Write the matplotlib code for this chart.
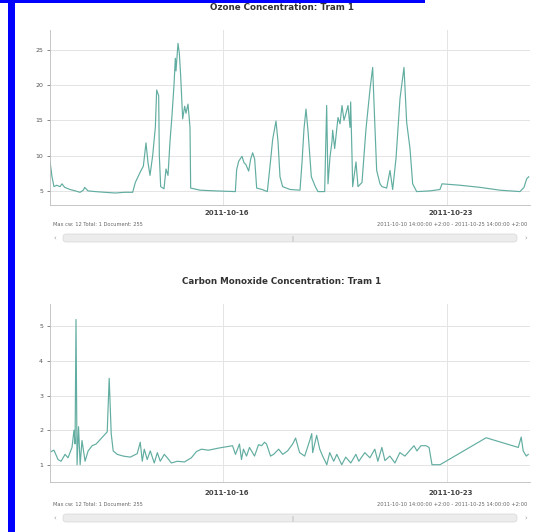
import matplotlib
matplotlib.use("Agg")
import matplotlib.pyplot as plt
from matplotlib.patches import FancyBboxPatch, Rectangle
import pandas as pd

# Data: hours after 2011-10-10 14:00 (+2:00)
start = pd.Timestamp("2011-10-10 14:00")
end = pd.Timestamp("2011-10-25 14:00")

ozone_hours = [0, 1.5, 3, 5, 7.5, 9, 11, 15, 19, 22.5, 25, 26, 28.5, 34, 41, 49, 56, 62,
               64, 67.5, 70, 72, 73.5, 75, 77, 79, 80, 81.5, 82, 83, 85.5, 87, 88.5, 90,
               91.5, 93, 94, 94.5, 96, 97, 98, 99.5, 101, 102, 103.5, 105, 105.5, 112.5,
               124, 139, 140, 141.5, 144, 145.5, 147, 149, 150.5, 152, 153.5, 155, 159,
               163, 165, 167, 169.5, 171, 172.5, 174.5, 180, 187.5, 189, 190.5, 192, 193.5,
               196, 199, 201, 206, 207.5, 208.5, 210, 211.5, 212, 213.5, 216, 217.5, 219,
               220.5, 222, 223.5, 225, 225.5, 226.5, 227, 229.5, 231, 234, 237, 240, 242,
               243.5, 245, 247.5, 249, 252.5, 255, 257, 259.5, 262.5, 265.5, 267.5, 270,
               272, 275, 285, 292.5, 294, 307.5, 322.5, 337.5, 352.5, 355.5, 357.5, 359]
ozone_vals = [9.2, 7.0, 5.6, 5.8, 5.6, 6.0, 5.5, 5.2, 5.0, 4.8, 5.1, 5.5, 5.0, 4.9, 4.8, 4.7,
              4.8, 4.8, 6.2, 7.6, 8.5, 11.8, 9.0, 7.2, 10.0, 14.0, 19.3, 18.5, 10.0, 5.6,
              5.3, 8.1, 7.2, 12.0, 15.7, 20.0, 23.8, 22.0, 25.9, 24.5, 21.3, 15.2, 17.0,
              16.0, 17.3, 14.0, 5.4, 5.1, 5.0, 4.9, 8.0, 9.2, 9.9, 9.0, 8.7, 7.8, 9.5,
              10.4, 9.5, 5.4, 5.2, 4.9, 8.5, 12.3, 14.9, 12.0, 7.0, 5.6, 5.2, 5.1, 9.0,
              13.8, 16.6, 13.5, 7.0, 5.6, 4.9, 4.9, 17.1, 6.0, 9.8, 12.0, 13.6, 11.0, 15.4,
              14.5, 17.1, 15.0, 16.0, 17.1, 14.0, 17.6, 10.0, 5.6, 9.1, 5.6, 6.2, 13.8,
              19.4, 22.5, 15.0, 7.9, 6.0, 5.6, 5.4, 7.9, 5.2, 9.6, 18.1, 22.5, 14.7, 11.0,
              6.0, 4.9, 5.0, 5.2, 6.0, 5.8, 5.5, 5.1, 4.9, 5.5, 6.7, 7.0]

co_hours = [0.8, 3, 6, 8.3, 11.3, 13.5, 16.5, 18, 18.8, 19.5, 20.3, 21.4, 22.6, 24, 26.3,
            28.6, 31.6, 34.6, 42.9, 44.4, 45.9, 47.4, 50.4, 54.9, 60.2, 65.4, 67.7, 69.2,
            70.7, 72.9, 75.2, 78.2, 80.5, 82.7, 85.7, 88, 91, 95.5, 100.8, 106, 109.8,
            113.6, 118.8, 126.3, 136.9, 139.1, 142.1, 143.6, 145.1, 147.4, 149.6, 153.4,
            156.4, 158.7, 160.9, 162.4, 165.4, 167.7, 171.5, 174.5, 178.2, 182, 184.2,
            187.2, 191, 194.8, 196.3, 197, 200, 202.3, 204.5, 207.6, 209.8, 212.8, 215.1,
            218.8, 221.8, 225.6, 229.4, 231.6, 236.1, 239.9, 243.6, 245.9, 248.9, 251.2,
            254.9, 258.7, 262.4, 266.2, 270.7, 273, 275.2, 278.2, 282, 284.3, 286.5,
            292.5, 327.1, 351.2, 353.4, 354.9, 357.2, 358.7]
co_vals = [1.38, 1.42, 1.15, 1.1, 1.3, 1.2, 1.5, 2.0, 1.6, 5.2, 1.0, 2.1, 1.0, 1.7, 1.1,
           1.4, 1.55, 1.6, 1.95, 3.5, 1.9, 1.4, 1.3, 1.25, 1.22, 1.32, 1.65, 1.1, 1.45,
           1.15, 1.4, 1.05, 1.35, 1.1, 1.3, 1.2, 1.05, 1.1, 1.08, 1.2, 1.38, 1.45, 1.42,
           1.48, 1.55, 1.3, 1.6, 1.15, 1.45, 1.25, 1.5, 1.25, 1.58, 1.55, 1.65, 1.6, 1.25,
           1.3, 1.45, 1.3, 1.4, 1.6, 1.77, 1.35, 1.25, 1.7, 1.9, 1.35, 1.85, 1.45, 1.25,
           1.0, 1.35, 1.1, 1.3, 1.0, 1.22, 1.05, 1.3, 1.1, 1.35, 1.2, 1.45, 1.1, 1.5,
           1.12, 1.25, 1.05, 1.35, 1.25, 1.45, 1.55, 1.4, 1.55, 1.55, 1.5, 1.0, 1.0, 1.78,
           1.5, 1.8, 1.4, 1.25, 1.3]

date_ticks = ["2011-10-16", "2011-10-23"]
ozone_yticks = [5, 10, 15, 20, 25]
co_yticks = [1, 2, 3, 4, 5]
footer_left = "Max cw: 12 Total: 1 Document: 255"
footer_right = "2011-10-10 14:00:00 +2:00 - 2011-10-25 14:00:00 +2:00"

W, H = 535, 532
fig = plt.figure(figsize=(W / 100, H / 100), dpi=100)
fig.patch.set_facecolor("white")


def fx(x):
    return x / W


def fy(y):
    return 1 - y / H


line_color = "#62ad a1".replace(" ", "")


def panel(top, bottom, title, hours, vals, yticks, ylim, title_y, date_y, foot_y, scroll_y):
    ax = fig.add_axes([fx(50), fy(bottom), fx(530) - fx(50), fy(top) - fy(bottom)])
    t = [start + pd.Timedelta(hours=h) for h in hours]
    ax.plot(t, vals, color=line_color, lw=0.85)
    ax.set_xlim(start, end)
    ax.set_ylim(*ylim)
    ax.set_yticks(yticks)
    ax.set_yticklabels([str(v) for v in yticks])
    ax.set_xticks([pd.Timestamp(d) for d in date_ticks])
    ax.set_xticklabels([])
    ax.tick_params(axis="y", labelsize=4.5, colors="#555555", length=2, width=0.5, pad=3)
    ax.tick_params(axis="x", length=0)
    ax.grid(True, color="#e4e4e4", lw=0.7)
    ax.set_axisbelow(True)
    for s in ["top", "right"]:
        ax.spines[s].set_visible(False)
    for s in ["left", "bottom"]:
        ax.spines[s].set_color("#bbbbbb")
        ax.spines[s].set_linewidth(0.6)

    fig.text(fx(282), fy(title_y), title, ha="center", va="center",
             fontsize=6.3, fontweight="bold", color="#333333")
    for d in date_ticks:
        xd = ax.transData.transform((matplotlib.dates.date2num(pd.Timestamp(d)), 0))[0]
        fig.text(xd / fig.dpi / fig.get_figwidth() + 0.006, fy(date_y), d, ha="center",
                 va="center", fontsize=5, fontweight="bold", color="#444444")
    fig.text(fx(53), fy(foot_y), footer_left, ha="left", va="center",
             fontsize=3.7, color="#666666")
    fig.text(fx(527), fy(foot_y), footer_right, ha="right", va="center",
             fontsize=3.7, color="#666666")
    # scrollbar
    bar = FancyBboxPatch((fx(63), fy(scroll_y + 4)), fx(517) - fx(63), fy(scroll_y - 4) - fy(scroll_y + 4),
                         boxstyle="round,pad=0,rounding_size=0.006",
                         transform=fig.transFigure, facecolor="#ececec",
                         edgecolor="#d6d6d6", lw=0.5)
    fig.patches.append(bar)
    fig.text(fx(292), fy(scroll_y), "|", ha="center", va="center", fontsize=4, color="#999999")
    fig.text(fx(55), fy(scroll_y), "‹", ha="center", va="center", fontsize=5, color="#999999")
    fig.text(fx(526), fy(scroll_y), "›", ha="center", va="center", fontsize=5, color="#999999")
    return ax


panel(30, 205, "Ozone Concentration: Tram 1", ozone_hours, ozone_vals, ozone_yticks,
      (3, 27.8), 8, 213, 224, 238)
panel(304, 482, "Carbon Monoxide Concentration: Tram 1", co_hours, co_vals, co_yticks,
      (0.5, 5.65), 281, 493, 505, 518)

# blue frame bars
fig.patches.append(Rectangle((fx(8), 0), fx(15) - fx(8), 1, transform=fig.transFigure,
                             facecolor="#0000ff", edgecolor="none"))
fig.patches.append(Rectangle((0, fy(3)), fx(425), fy(0) - fy(3), transform=fig.transFigure,
                             facecolor="#0000ff", edgecolor="none"))

fig.savefig("out.png", dpi=100)
